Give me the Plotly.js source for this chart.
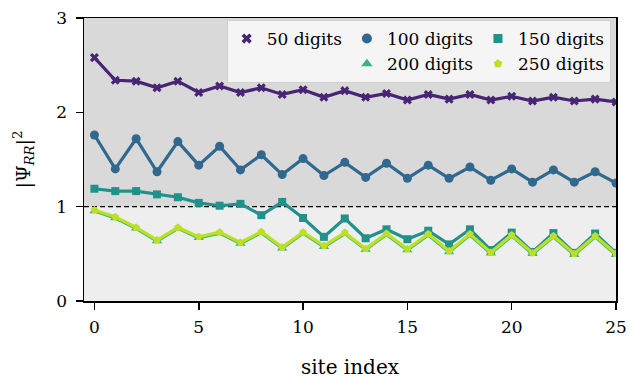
<!DOCTYPE html>
<html>
<head>
<meta charset="utf-8">
<script src="https://cdn.plot.ly/plotly-3.0.1.min.js"></script>
<style>html,body{margin:0;padding:0;background:#fff;}#chart{width:629px;height:379px;}</style>
</head>
<body>
<div id="chart"></div>
<script>
const siteIndex = [0,1,2,3,4,5,6,7,8,9,10,11,12,13,14,15,16,17,18,19,20,21,22,23,24,25];
const seriesNames = ["50 digits","100 digits","150 digits","200 digits","250 digits"];
const d50  = [2.58,2.34,2.33,2.26,2.33,2.21,2.28,2.21,2.26,2.19,2.24,2.16,2.23,2.16,2.20,2.13,2.19,2.14,2.19,2.13,2.17,2.12,2.16,2.12,2.14,2.11];
const d100 = [1.76,1.40,1.72,1.37,1.69,1.44,1.64,1.39,1.55,1.34,1.51,1.33,1.47,1.31,1.46,1.30,1.44,1.30,1.42,1.28,1.40,1.26,1.39,1.26,1.37,1.25];
const d150 = [1.19,1.165,1.165,1.13,1.10,1.04,1.01,1.03,0.91,1.05,0.88,0.68,0.875,0.665,0.76,0.655,0.745,0.60,0.76,0.54,0.725,0.52,0.72,0.51,0.715,0.51];
const d200 = [0.955,0.88,0.77,0.635,0.77,0.67,0.72,0.61,0.725,0.56,0.72,0.575,0.715,0.545,0.705,0.54,0.70,0.52,0.70,0.505,0.69,0.50,0.68,0.49,0.68,0.49];
const d250 = [0.965,0.89,0.78,0.645,0.78,0.68,0.73,0.62,0.735,0.57,0.73,0.585,0.725,0.555,0.715,0.55,0.71,0.53,0.71,0.515,0.70,0.51,0.69,0.50,0.69,0.50];
const xTicks = [0,5,10,15,20,25];
const yTicks = [0,1,2,3];

const allData = [d50,d100,d150,d200,d250];
const colors = ["#482475","#31688e","#21918c","#35b779","#bddf26"];
const symbols = ["x","circle","square","triangle-up","pentagon"];
const msizes = [8,9,8,9,8];
const groups = ["g1","g2","g3","g2","g3"];

const FONT = "DejaVu Serif";
const traces = [];
allData.forEach((ys,i)=>{
  traces.push({
    x: siteIndex, y: ys, type:"scatter", mode:"lines+markers",
    line:{color:colors[i], width:3.2},
    marker:{color:colors[i], symbol:symbols[i], size:msizes[i]},
    showlegend:false, hoverinfo:"skip"
  });
});
allData.forEach((ys,i)=>{
  traces.push({
    x:[null], y:[null], type:"scatter", mode:"markers",
    name: seriesNames[i], legendgroup: groups[i],
    marker:{color:colors[i], symbol:symbols[i], size:msizes[i]+1},
    showlegend:true
  });
});

const layout = {
  width:629, height:379,
  margin:{l:84, r:13, t:18, b:78},
  paper_bgcolor:"#ffffff",
  plot_bgcolor:"#eeeeee",
  font:{family:FONT, size:17, color:"#000"},
  showlegend:true,
  legend:{
    orientation:"h", traceorder:"grouped",
    x:0.99, xanchor:"right", y:0.993, yanchor:"top",
    bgcolor:"rgba(247,247,247,0.95)", bordercolor:"#d0d0d0", borderwidth:1,
    font:{family:FONT, size:17}, tracegroupgap:0, itemclick:false
  },
  xaxis:{
    range:[-0.5,25], tickvals:xTicks, ticktext:xTicks.map(String),
    showline:true, mirror:true, linecolor:"#000", linewidth:1.5,
    ticks:"outside", ticklen:7, tickwidth:1.5, tickcolor:"#000",
    showgrid:false, zeroline:false, ticklabelstandoff:3,
    tickfont:{family:FONT, size:17},
    title:{text:"site index", font:{family:FONT, size:20}, standoff:24}
  },
  yaxis:{
    range:[0,3], tickvals:yTicks, ticktext:yTicks.map(String),
    showline:true, mirror:true, linecolor:"#000", linewidth:1.5,
    ticks:"outside", ticklen:7, tickwidth:1.5, tickcolor:"#000",
    showgrid:false, zeroline:false, ticklabelstandoff:5,
    tickfont:{family:FONT, size:17},
    title:{text:"|Ψ<sub><i>RR</i></sub>|<sup>2</sup>", font:{family:FONT, size:19}, standoff:20}
  },
  shapes:[
    {type:"rect", xref:"paper", yref:"y", x0:0, x1:1, y0:1, y1:3, fillcolor:"#d9d9d9", line:{width:0}, layer:"below"},
    {type:"rect", xref:"paper", yref:"y", x0:0, x1:1, y0:0, y1:1, fillcolor:"#eeeeee", line:{width:0}, layer:"below"},
    {type:"line", xref:"paper", yref:"y", x0:0, x1:1, y0:1, y1:1, line:{color:"#000", width:1.2, dash:"5px,3px"}, layer:"below"}
  ]
};
Plotly.newPlot("chart", traces, layout, {displayModeBar:false, staticPlot:true});
</script>
</body>
</html>
